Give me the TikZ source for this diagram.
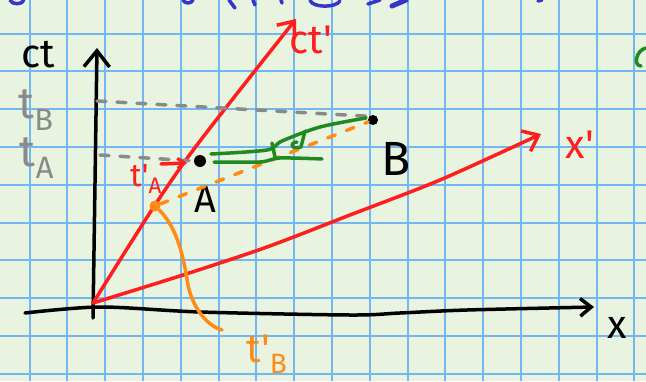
\documentclass[tikz,border=0pt]{standalone}
\usepackage{fontspec}
\setmainfont{Fira Sans}
\usetikzlibrary{arrows.meta}
\definecolor{paper}{HTML}{E8F3E0}
\definecolor{gridblue}{HTML}{72B6F2}
\definecolor{penred}{HTML}{FF1E1E}
\definecolor{penorange}{HTML}{FF8A14}
\definecolor{pengreen}{HTML}{1F8A1F}
\definecolor{pengray}{HTML}{8A8A8A}
\definecolor{penblue}{HTML}{3535CC}
\newcommand{\tick}{\textquotesingle}
\tikzset{
  pen/.style={line width=3.5pt, line cap=round, line join=round},
  hand/.style={font=\fontsize{#1}{#1}\selectfont, inner sep=0pt},
  dot/.style={circle, fill=#1, inner sep=0pt, minimum size=12pt},
  barb/.style={-{Straight Barb[length=#1, width=1.6*#1, line width=3.5pt]}}
}

\begin{document}
\begin{tikzpicture}[x=1pt, y=-1pt]
  \useasboundingbox (0,0) rectangle (646,381);

  % Papel cuadriculado
  \fill[paper] (0,0) rectangle (646,381);
  \foreach \gx in {0,...,16}
    \draw[gridblue, line width=2pt] (29.6+37.8*\gx,0) -- (29.6+37.8*\gx,381);
  \foreach \gy in {0,...,9}
    \draw[gridblue, line width=2pt] (0,33.5+37.8*\gy) -- (646,33.5+37.8*\gy);

  % Restos de escritura cortados arriba
  \draw[pen, penblue] (10,0) .. controls (12,5) and (22,5) .. (24,0);
  \draw[pen, penblue] (183,0) .. controls (185,4) and (191,4) .. (193,0);
  \draw[pen, penblue] (229,0) -- (235,8);
  \draw[pen, penblue] (253,0) -- (255,5);
  \draw[pen, penblue] (281,0) -- (282,3);
  \draw[pen, penblue] (310,0) .. controls (312,8) and (336,8) .. (340,1);
  \draw[pen, penblue] (368,4) -- (380,0);
  \draw[line width=5pt, line cap=round, penblue] (392,6) -- (406,0);
  \draw[pen, penblue] (538,1) -- (542,0);
  \draw[pen, pengreen] (646,48) .. controls (636,50) and (633,66) .. (641,66);

  % Puntos de referencia
  \coordinate (O) at (93,303);
  \coordinate (ctTip) at (97,48);
  \coordinate (ctFoot) at (93,318);
  \coordinate (xStart) at (25,313);
  \coordinate (xTip) at (594,307);
  \coordinate (ctpTip) at (296,19);
  \coordinate (xpTip) at (541,134);

  % Ejes ct y x
  \draw[pen, black, barb=16pt] (ctFoot) -- (ctTip);
  \draw[pen, black, barb=11pt] plot[smooth] coordinates
    {(xStart) (100,307) (200,312) (350,315) (400,313) (467,310) (xTip)};
  \node[hand=40] (ct) at (38,55) {ct};
  \node[hand=40] (xlab) at (617,328) {x};

  % Ejes ct' y x' (rojo)
  \draw[pen, penred, barb=14pt] plot[smooth] coordinates
    {(O) (155,205) (200,141) (ctpTip)};
  \draw[pen, penred, barb=14pt] plot[smooth] coordinates
    {(O) (183,275) (267,247) (350,215) (440,180) (xpTip)};
  \node[hand=40, penred] (ctp) at (311,40) {ct\tick};
  \node[hand=40, penred] (xp) at (580,145) {x\tick};

  % Eventos A y B
  \node[dot=black] (A) at (200,161) {};
  \node[dot=black, minimum size=10pt] (B) at (373,120) {};
  \node[hand=38] (Alab) at (205,199) {A};
  \node[hand=48] (Blab) at (396,159) {B};

  % Tiempos t_A y t_B (gris)
  \node[hand=44, pengray] (tB) at (36,110) {t\textsubscript{B}};
  \node[hand=44, pengray] (tA) at (37,158) {t\textsubscript{A}};
  \draw[pen, pengray, dash pattern=on 9pt off 11pt] (97,101) -- (B.north west);
  \draw[pen, pengray, dash pattern=on 9pt off 11pt] (100,155) -- (A.west);

  % Linea de simultaneidad en S' por B (naranja)
  \node[dot=penorange, minimum size=11pt] (tpB) at (155,206) {};
  \draw[pen, penorange, dash pattern=on 8pt off 12pt] (tpB) -- (B);
  \draw[pen, penorange] (tpB) .. controls (178,228) and (184,260) .. (188,285)
    .. controls (192,305) and (205,325) .. (222,330) coordinate (tpBend);
  \node[hand=40, penorange] (tpBlab) at (267,354) {t\tick\textsubscript{B}};

  % t'_A (rojo)
  \node[hand=32, penred] (tpA) at (146,179) {t\tick\textsubscript{A}};
  \coordinate (tpAtail) at (161,164);
  \coordinate (tpAhead) at (187,163);
  \draw[pen, penred, -{Straight Barb[length=7pt, width=10pt, line width=3pt]}]
    (tpAtail) -- (tpAhead);

  % Trazo verde entre A y B
  \draw[pen, pengreen] plot[smooth] coordinates
    {(211,154) (267,150) (282,141) (320,127) (366,118)};
  \draw[pen, pengreen] plot[smooth] coordinates
    {(214,162) (260,162) (280,158) (322,159)};
  \draw[pen, pengreen] (272,143) -- (275,157);
  \draw[pen, pengreen] (305,131) -- (301,147)
    .. controls (292,150) and (288,143) .. (297,142);

\end{tikzpicture}
\end{document}
